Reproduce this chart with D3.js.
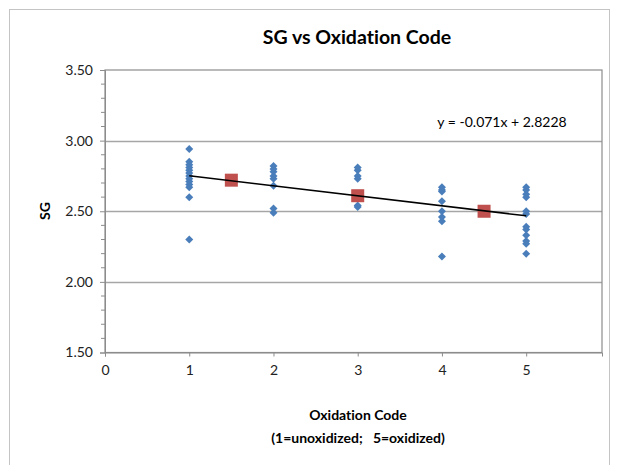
<!DOCTYPE html>
<html><head><meta charset="utf-8">
<script src="https://cdn.jsdelivr.net/npm/d3@7"></script>
<style>
html,body{margin:0;padding:0;background:#fff;}
svg{display:block;font-family:Lato,"Open Sans",sans-serif;font-variant-ligatures:none;}
</style></head>
<body>
<svg id="chart" width="618" height="465"></svg>
<script>
// ---- data ----
const codes = [1, 2, 3, 4, 5];
const sgCode1 = [2.94, 2.85, 2.83, 2.81, 2.79, 2.77, 2.75, 2.73, 2.71, 2.69, 2.67, 2.60, 2.30];
const sgCode2 = [2.82, 2.80, 2.78, 2.75, 2.73, 2.68, 2.52, 2.49];
const sgCode3 = [2.81, 2.79, 2.75, 2.73, 2.62, 2.54, 2.53];
const sgCode4 = [2.67, 2.65, 2.64, 2.57, 2.50, 2.46, 2.43, 2.18];
const sgCode5 = [2.67, 2.65, 2.62, 2.60, 2.50, 2.48, 2.39, 2.37, 2.33, 2.29, 2.27, 2.20];
const avgX = [1.5, 3, 4.5];
const avgSG = [2.72, 2.61, 2.50];
const trendSlope = -0.071;
const trendIntercept = 2.8228;
const trendRange = [1, 5];
const xTicks = [0, 1, 2, 3, 4, 5];
const yTicks = [1.5, 2.0, 2.5, 3.0, 3.5];
const title = "SG vs Oxidation Code";
const yTitle = "SG";
const xTitle1 = "Oxidation Code";
const xTitle2 = "(1=unoxidized;   5=oxidized)";
const eqLabel = "y = -0.071x + 2.8228";

// ---- build ----
const groups = [sgCode1, sgCode2, sgCode3, sgCode4, sgCode5];
const points = [];
groups.forEach((arr, i) => arr.forEach(v => points.push({x: codes[i], y: v})));
const avgPts = avgX.map((x, i) => ({x, y: avgSG[i]}));

const svg = d3.select("#chart");
const L = 105, R = 602, T = 70, B = 352.5;
const x = d3.scaleLinear().domain([0, 5.9]).range([L, R]);
const y = d3.scaleLinear().domain([1.5, 3.5]).range([B, T]);

// outer chart border
svg.append("rect").attr("x", 9.5).attr("y", 9.5).attr("width", 600).attr("height", 470)
  .attr("fill", "#fff").attr("stroke", "#c4c4c4").attr("stroke-width", 1);

// gridlines
svg.append("g").selectAll("line").data(yTicks.slice(1, -1)).join("line")
  .attr("x1", L).attr("x2", R).attr("y1", d => Math.round(y(d)) + 0.5).attr("y2", d => Math.round(y(d)) + 0.5)
  .attr("stroke", "#a6a6a6").attr("stroke-width", 1.5);

// plot border
svg.append("rect").attr("x", L).attr("y", T).attr("width", R - L).attr("height", B - T)
  .attr("fill", "none").attr("stroke", "#8c8c8c").attr("stroke-width", 1.2);

// y axis
const yAxis = d3.axisLeft(y).tickValues(yTicks).tickFormat(d3.format(".2f")).tickSize(5).tickPadding(7);
const gy = svg.append("g").attr("transform", `translate(${L},0)`).call(yAxis);
gy.select(".domain").attr("stroke", "#8c8c8c");
gy.selectAll(".tick line").attr("stroke", "#8c8c8c");
gy.selectAll("text").attr("font-size", 14).attr("fill", "#222").style("font-family", "Lato");
const minor = d3.range(1.5, 3.5001, 0.1).filter(v => !yTicks.some(t => Math.abs(t - v) < 1e-6));
svg.append("g").selectAll("line").data(minor).join("line")
  .attr("x1", L - 4).attr("x2", L).attr("y1", d => y(d)).attr("y2", d => y(d))
  .attr("stroke", "#8c8c8c");

// x axis
const xAxis = d3.axisBottom(x).tickValues(xTicks).tickFormat(d3.format("d")).tickSize(4).tickPadding(9);
const gx = svg.append("g").attr("transform", `translate(0,${B})`).call(xAxis);
gx.select(".domain").attr("stroke", "#8c8c8c");
gx.selectAll(".tick line").attr("stroke", "#8c8c8c");
gx.selectAll("text").attr("font-size", 14).attr("fill", "#222").style("font-family", "Lato");

// points (square diamonds)
const diamondPath = "M0,-4L4,0L0,4L-4,0Z";
svg.append("g").selectAll("path").data(points).join("path")
  .attr("d", diamondPath).attr("transform", d => `translate(${x(d.x)},${y(d.y)})`)
  .attr("fill", "#4a7ebb");

// average squares
svg.append("g").selectAll("rect").data(avgPts).join("rect")
  .attr("x", d => x(d.x) - 6.5).attr("y", d => y(d.y) - 6.5).attr("width", 13).attr("height", 13)
  .attr("fill", "#c0504d");

// trendline
svg.append("line")
  .attr("x1", x(trendRange[0])).attr("y1", y(trendSlope * trendRange[0] + trendIntercept))
  .attr("x2", x(trendRange[1])).attr("y2", y(trendSlope * trendRange[1] + trendIntercept))
  .attr("stroke", "#000").attr("stroke-width", 1.5);

// texts
svg.append("text").attr("x", 357).attr("y", 44).attr("text-anchor", "middle")
  .attr("font-size", 19.5).attr("font-weight", "bold").text(title);
svg.append("text").attr("transform", "translate(50,211) rotate(-90)").attr("text-anchor", "middle")
  .attr("font-size", 14).attr("font-weight", "bold").text(yTitle);
svg.append("text").attr("x", 358).attr("y", 420).attr("text-anchor", "middle")
  .attr("font-size", 14).attr("font-weight", "bold").text(xTitle1);
svg.append("text").attr("x", 358).attr("y", 443).attr("text-anchor", "middle")
  .attr("font-size", 14).attr("font-weight", "bold").style("white-space", "pre").text(xTitle2);
svg.append("text").attr("x", 502).attr("y", 127).attr("text-anchor", "middle")
  .attr("font-size", 14).text(eqLabel);
</script>
</body></html>
